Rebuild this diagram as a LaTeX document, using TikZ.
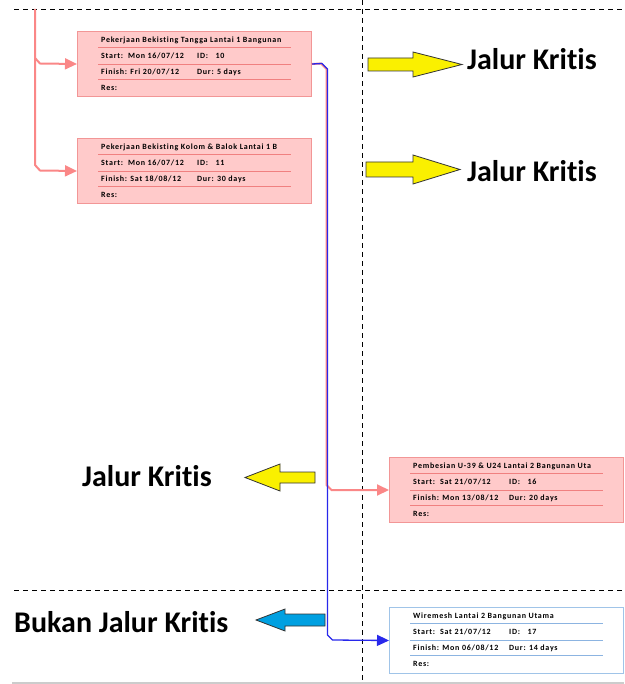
\documentclass[tikz,border=0pt]{standalone}
\usepackage{fontspec}
\setmainfont[Ligatures=NoCommon]{Carlito}
\newfontfamily\boxfont[LetterSpace=9,Ligatures=NoCommon]{Carlito}
\usetikzlibrary{arrows.meta}
\definecolor{boxfill}{RGB}{255,202,202}
\definecolor{boxdraw}{RGB}{242,150,150}
\definecolor{rowpink}{RGB}{240,128,128}
\definecolor{pinkln}{RGB}{250,135,135}
\definecolor{blueln}{RGB}{40,40,235}
\definecolor{lbdraw}{RGB}{160,196,232}
\definecolor{rowblue}{RGB}{140,180,225}
\definecolor{yel}{RGB}{250,240,0}
\definecolor{cyanar}{RGB}{0,160,225}
\tikzset{
  boxpink/.style={draw=boxdraw, fill=boxfill, line width=1pt, minimum width=234pt, minimum height=65pt, inner sep=0pt},
  boxblue/.style={draw=lbdraw, fill=white, line width=1pt, minimum width=234pt, minimum height=66pt, inner sep=0pt},
  rowpink/.style={draw=rowpink, line width=0.8pt},
  rowblue/.style={draw=rowblue, line width=0.8pt},
  tt/.style={anchor=west, inner sep=0pt, font=\boxfont\fontsize{8}{9}\selectfont\bfseries},
  biglabel/.style={inner sep=0pt, font=\fontsize{30}{34}\selectfont\bfseries},
  sep/.style={draw=black, dash pattern=on 5pt off 4pt, line width=0.9pt},
  pinkline/.style={draw=pinkln, line width=2pt},
  blueline/.style={draw=blueln, line width=1.3pt},
  tip/.style={-{Triangle[length=12pt,width=11pt]}},
  yarrow/.style={draw=black!80, fill=yel, line width=0.8pt, line join=miter},
  carrow/.style={draw=black!80, fill=cyanar, line width=0.8pt, line join=miter},
}
\newcommand\taskbox[8]{%
  \begin{scope}[shift={(#2)}]
    \node[box#3, anchor=north west] (#1) at (0,0) {};
    \foreach \d in {16.5,33,48.5} \draw[row#3] (21,\d) -- (214,\d);
    \node[tt] (#1-t) at (24,9.5) {#4};
    \node[tt] (#1-s) at (24,25) {Start:\ \ #5};
    \node[tt] (#1-i) at (120,25) {ID:\ \ \ #6};
    \node[tt] (#1-f) at (24,41) {Finish: #7};
    \node[tt] (#1-d) at (120,41) {Dur: #8};
    \node[tt] (#1-r) at (24,57) {Res:};
  \end{scope}}
\begin{document}
\begin{tikzpicture}[x=1pt,y=-1pt]
\useasboundingbox (0,0) rectangle (624,684);
% separators
\draw[sep] (14,9) -- (624,9);
\draw[sep] (14,590) -- (624,590);
\draw[sep] (362,0) -- (362,684);
\draw[draw=black!20, line width=2pt] (12,683) -- (624,683);
% task boxes
\taskbox{b1}{77,31}{pink}{Pekerjaan Bekisting Tangga Lantai 1 Bangunan}{Mon 16/07/12}{10}{Fri 20/07/12}{5 days}
\taskbox{b2}{77,138}{pink}{Pekerjaan Bekisting Kolom \& Balok Lantai 1 B}{Mon 16/07/12}{11}{Sat 18/08/12}{30 days}
\taskbox{b3}{389,457}{pink}{Pembesian U-39 \& U24 Lantai 2 Bangunan Uta}{Sat 21/07/12}{16}{Mon 13/08/12}{20 days}
\taskbox{b4}{389,607}{blue}{Wiremesh Lantai 2 Bangunan Utama}{Sat 21/07/12}{17}{Mon 06/08/12}{14 days}
% connectors
\coordinate (ptop) at (35,9);
\coordinate (pmid) at (35,58);
\draw[pinkline, tip] (ptop) -- (pmid) -- (40,63.5) -- (b1.west);
\draw[pinkline, tip] (pmid) -- (35,165) -- (40,170.5) -- (b2.west);
\draw[pinkline, tip] (b1.east) -- (321,63.5) -- (326.5,69) -- (326.5,485) -- (331.5,490) -- (b3.west);
\draw[blueline, tip] (b1.east) -- (322,63.5) -- (327.5,69) -- (327.5,635) -- (332.5,640) -- (b4.west);
% yellow arrows with labels
\draw[yarrow] (368,58) -- (413,58) -- (413,52) -- (462,64.5) -- (413,77) -- (413,71) -- (368,71) -- cycle;
\node[biglabel, anchor=west] (k1) at (467,59) {Jalur Kritis};
\draw[yarrow] (366,162) -- (413,162) -- (413,155) -- (460,169.5) -- (413,184) -- (413,177) -- (366,177) -- cycle;
\node[biglabel, anchor=west] (k2) at (467,171) {Jalur Kritis};
\draw[yarrow] (315,472) -- (280,472) -- (280,464) -- (245,477.5) -- (280,491) -- (280,483) -- (315,483) -- cycle;
\node[biglabel, anchor=west] (k3) at (82,476) {Jalur Kritis};
\draw[carrow] (325,614) -- (285,614) -- (285,609) -- (256,620) -- (285,631) -- (285,626) -- (325,626) -- cycle;
\node[biglabel, anchor=west] (k4) at (14,622) {Bukan Jalur Kritis};
\end{tikzpicture}
\end{document}
